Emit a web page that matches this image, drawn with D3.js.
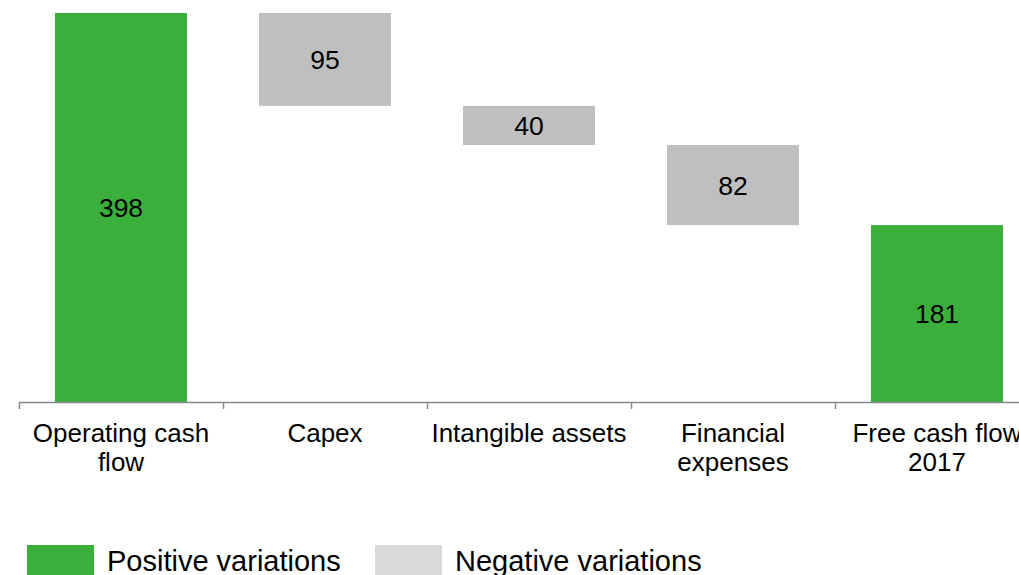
<!DOCTYPE html>
<html>
<head>
<meta charset="utf-8">
<script src="https://cdn.jsdelivr.net/npm/d3@7"></script>
<style>
  html, body { margin: 0; padding: 0; background: #fff; }
  svg { display: block; font-family: "Liberation Sans", Arial, sans-serif; }
</style>
</head>
<body>
<svg id="chart" width="1019" height="575"></svg>
<script>
const categories = ["Operating cash\nflow", "Capex", "Intangible assets", "Financial\nexpenses", "Free cash flow\n2017"];
const values = [398, -95, -40, -82, 181];
const isTotal = [true, false, false, false, true];
const legendLabels = ["Positive variations", "Negative variations"];

const colors = { pos: "#3BAF3B", neg: "#BFBFBF", negLegend: "#D9D9D9", axis: "#898989" };

const svg = d3.select("#chart");

// build waterfall rows
let running = 0;
const rows = categories.map((c, i) => {
  let start, end;
  if (isTotal[i]) { start = 0; end = values[i]; running = values[i]; }
  else { start = running; end = running + values[i]; running = end; }
  return { cat: c, value: values[i], start, end, total: isTotal[i] };
});

const x = d3.scaleBand().domain(categories).range([19, 1039])
  .paddingInner(0.353).paddingOuter(0.1765);
const y = d3.scaleLinear().domain([0, 398]).range([402, 13]);

// bars
svg.selectAll("rect.bar").data(rows).enter().append("rect")
  .attr("class", "bar")
  .attr("x", d => x(d.cat))
  .attr("width", x.bandwidth())
  .attr("y", d => y(Math.max(d.start, d.end)))
  .attr("height", d => Math.abs(y(d.start) - y(d.end)))
  .attr("fill", d => d.total ? colors.pos : colors.neg);

// value labels
svg.selectAll("text.val").data(rows).enter().append("text")
  .attr("class", "val")
  .attr("x", d => x(d.cat) + x.bandwidth() / 2)
  .attr("y", d => (y(d.start) + y(d.end)) / 2)
  .attr("dy", "0.36em")
  .attr("text-anchor", "middle")
  .attr("font-size", 26.5)
  .attr("fill", "#000")
  .text(d => Math.abs(d.value));

// axis with ticks at category boundaries
const edge = d3.scaleLinear().domain([0, categories.length]).range([19, 1039]);
const axisG = svg.append("g").attr("transform", `translate(0,${y(0)})`)
  .call(d3.axisBottom(edge).tickValues(d3.range(categories.length + 1)).tickFormat("").tickSize(7).tickSizeOuter(0));
axisG.select(".domain").attr("stroke", colors.axis).attr("stroke-width", 1.5);
axisG.selectAll(".tick line").attr("stroke", colors.axis).attr("stroke-width", 1.5);

// category labels
const lab = svg.append("g").selectAll("text").data(categories).enter().append("text")
  .attr("x", d => x(d) + x.bandwidth() / 2)
  .attr("y", 442)
  .attr("text-anchor", "middle")
  .attr("font-size", 26)
  .attr("fill", "#000");
lab.each(function(d) {
  const t = d3.select(this);
  d.split("\n").forEach((line, i) => {
    t.append("tspan").attr("x", x(d) + x.bandwidth() / 2).attr("dy", i === 0 ? 0 : 28.5).text(line);
  });
});

// legend
const legendColors = [colors.pos, colors.negLegend];
const legendX = [27, 375];
const lg = svg.append("g");
legendLabels.forEach((l, i) => {
  lg.append("rect").attr("x", legendX[i]).attr("y", 545).attr("width", 67).attr("height", 32).attr("fill", legendColors[i]);
  lg.append("text").attr("x", legendX[i] + 80).attr("y", 571)
    .attr("font-size", 29).attr("fill", "#000").text(l);
});
</script>
</body>
</html>
